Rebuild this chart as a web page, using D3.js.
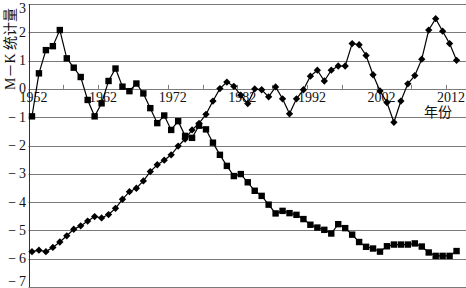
<!DOCTYPE html>
<html>
<head>
<meta charset="utf-8">
<script src="https://cdn.jsdelivr.net/npm/d3@7"></script>
<style>
  body { margin: 0; background: #fff; }
  text { font-family: "Liberation Serif", "Noto Sans CJK SC", serif; fill: #111; }
</style>
</head>
<body>
<div id="chart-container"></div>
<script>
const years = d3.range(1952, 2014);

// UF statistic (squares)
const ufValues = [
  -0.97, 0.55, 1.37, 1.51, 2.08, 1.08, 0.75, 0.42, -0.39, -0.97,
  -0.51, 0.28, 0.72, 0.08, -0.08, 0.19, -0.16, -0.68, -1.21, -0.94,
  -1.45, -1.14, -1.66, -1.73, -1.30, -1.43, -1.90, -2.33, -2.72, -3.08,
  -3.01, -3.30, -3.60, -3.78, -4.09, -4.40, -4.31, -4.39, -4.45, -4.60,
  -4.80, -4.90, -4.98, -5.11, -4.78, -4.92, -5.15, -5.41, -5.58, -5.64,
  -5.75, -5.56, -5.50, -5.50, -5.50, -5.46, -5.57, -5.78, -5.90, -5.90,
  -5.90, -5.73
];

// UB statistic (diamonds)
const ubValues = [
  -5.75, -5.70, -5.75, -5.60, -5.41, -5.19, -4.96, -4.84, -4.67, -4.51,
  -4.56, -4.44, -4.22, -3.90, -3.63, -3.51, -3.25, -2.92, -2.68, -2.52,
  -2.33, -2.02, -1.77, -1.45, -1.22, -0.90, -0.43, 0.01, 0.24, 0.09,
  -0.22, -0.52, 0.00, -0.03, -0.28, 0.07, -0.35, -0.88, -0.35, -0.03,
  0.45, 0.66, 0.28, 0.66, 0.81, 0.81, 1.60, 1.56, 1.18, 0.50,
  -0.07, -0.48, -1.18, -0.43, 0.18, 0.47, 1.05, 2.08, 2.48, 2.04,
  1.60, 1.01
];

const yearLabels = [1952, 1962, 1972, 1982, 1992, 2002, 2012];
const yTicks = [3, 2, 1, 0, -1, -2, -3, -4, -5, -6, -7];
const yTitle = "M－K 统计量";
const xTitle = "年份";

const width = 466;
const height = 288;

drawChart();

function drawChart() {
  const svg = d3
    .select("#chart-container")
    .append("svg")
    .attr("width", width)
    .attr("height", height);

  const x = d3.scaleLinear().domain([1951.5, 2014.5]).range([28.5, 467]);
  const y = d3.scaleLinear().domain([-7, 3]).range([287, 4]);

  // horizontal grid lines
  svg
    .append("g")
    .selectAll("line")
    .data(yTicks)
    .enter()
    .append("line")
    .attr("x1", x(1951.5))
    .attr("x2", width)
    .attr("y1", (d) => Math.round(y(d)) + 0.5)
    .attr("y2", (d) => Math.round(y(d)) + 0.5)
    .style("stroke", "#7a7a7a")
    .style("stroke-width", 1);

  // left axis line
  svg
    .append("line")
    .attr("x1", Math.round(x(1951.5)) + 0.5)
    .attr("x2", Math.round(x(1951.5)) + 0.5)
    .attr("y1", y(3))
    .attr("y2", y(-7))
    .style("stroke", "#333")
    .style("stroke-width", 1);

  // y tick labels
  svg
    .append("g")
    .selectAll("text")
    .data(yTicks)
    .enter()
    .append("text")
    .attr("x", 26)
    .attr("y", (d) => Math.min(Math.max(y(d), 8), 281))
    .attr("text-anchor", "end")
    .attr("dominant-baseline", "central")
    .style("font-size", "14px")
    .text((d) => (d < 0 ? "\u2212" + "\u2009" + Math.abs(d) : d));

  // small ticks on the zero line, every 5 years
  const tickYears = d3.range(1956.5, 2014, 5);
  svg
    .append("g")
    .selectAll("line")
    .data(tickYears)
    .enter()
    .append("line")
    .attr("x1", (d) => Math.round(x(d)) + 0.5)
    .attr("x2", (d) => Math.round(x(d)) + 0.5)
    .attr("y1", y(0))
    .attr("y2", y(0) - 4)
    .style("stroke", "#7a7a7a");

  // x labels sit just under the zero line
  svg
    .append("g")
    .selectAll("text")
    .data(yearLabels)
    .enter()
    .append("text")
    .attr("x", (d) => x(d) + 1.5)
    .attr("y", y(0) + 13)
    .attr("text-anchor", "middle")
    .style("font-size", "14px")
    .text((d) => d);

  svg
    .append("text")
    .attr("x", 438)
    .attr("y", 117)
    .attr("text-anchor", "middle")
    .style("font-size", "14px")
    .text(xTitle);

  svg
    .append("text")
    .attr("transform", "translate(15, 49) rotate(-90)")
    .attr("text-anchor", "middle")
    .style("font-size", "14px")
    .text(yTitle);

  const ufData = years.map((d, i) => ({ year: d, value: ufValues[i] }));
  const ubData = years.map((d, i) => ({ year: d, value: ubValues[i] }));

  const lineGenerator = d3
    .line()
    .x((d) => x(d.year))
    .y((d) => y(d.value));

  [ufData, ubData].forEach((data) => {
    svg
      .append("path")
      .datum(data)
      .attr("d", lineGenerator)
      .style("fill", "none")
      .style("stroke", "#000")
      .style("stroke-width", 1.2);
  });

  // squares
  svg
    .append("g")
    .selectAll("rect")
    .data(ufData)
    .enter()
    .append("rect")
    .attr("x", (d) => x(d.year) - 3.2)
    .attr("y", (d) => y(d.value) - 3.2)
    .attr("width", 6.4)
    .attr("height", 6.4)
    .style("fill", "#000");

  // diamonds
  const diamond = d3.symbol().type(d3.symbolDiamond2).size(34);
  svg
    .append("g")
    .selectAll("path")
    .data(ubData)
    .enter()
    .append("path")
    .attr("d", diamond)
    .attr("transform", (d) => `translate(${x(d.year)}, ${y(d.value)})`)
    .style("fill", "#000");
}
</script>
</body>
</html>
